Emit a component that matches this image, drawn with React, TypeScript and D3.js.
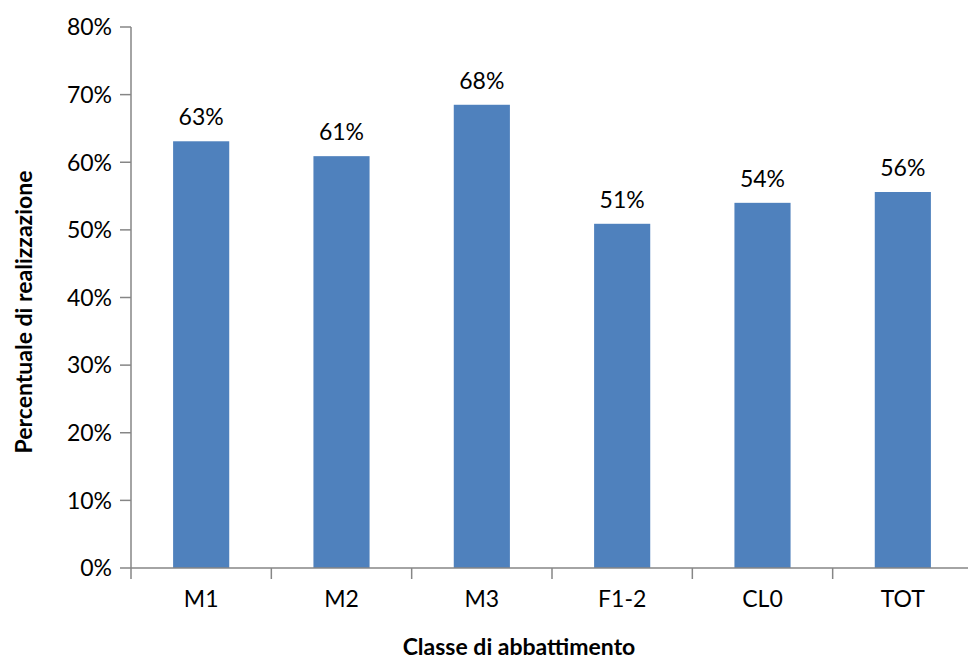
import React from "react";
import * as d3 from "d3";

const categories = ["M1", "M2", "M3", "F1-2", "CL0", "TOT"];
const values = [63.1, 60.9, 68.5, 50.9, 54.0, 55.6];
const valueLabels = ["63%", "61%", "68%", "51%", "54%", "56%"];
const yTicks = [0, 10, 20, 30, 40, 50, 60, 70, 80];

const W = 968;
const H = 659;
const FONT = "Lato, 'Open Sans', sans-serif";
const AXIS = "#868686";
const BAR = "#4F81BD";
const FS = 23;

export default function App() {
  const band = d3.scaleBand<string>().domain(categories).range([131, 973]);
  const y = d3.scaleLinear().domain([0, 80]).range([568, 27]);
  const step = band.step();
  return (
    <svg width={W} height={H} style={{ position: "absolute", left: 0, top: 0, display: "block" }} fontFamily={FONT}>
      <rect width={W} height={H} fill="#fff" />
      {categories.map((c, i) => {
        const cx = band(c)! + step / 2;
        const bw = step * 0.4;
        return (
          <g key={c}>
            <rect x={cx - bw / 2} y={y(values[i])} width={bw} height={y(0) - y(values[i])} fill={BAR} />
            <text x={cx} y={y(values[i]) - 16} textAnchor="middle" fontSize={FS} fill="#000">{valueLabels[i]}</text>
            <text x={cx} y={607} textAnchor="middle" fontSize={FS} fill="#000">{c}</text>
          </g>
        );
      })}
      <line x1={131} x2={131} y1={27} y2={568} stroke={AXIS} strokeWidth={1.5} />
      <line x1={131} x2={973} y1={568} y2={568} stroke={AXIS} strokeWidth={1.5} />
      {yTicks.map((t) => (
        <g key={t}>
          <line x1={120} x2={131} y1={y(t)} y2={y(t)} stroke={AXIS} strokeWidth={1.5} />
          <text x={112} y={y(t)} dy="0.36em" textAnchor="end" fontSize={FS} fill="#000">{t}%</text>
        </g>
      ))}
      {d3.range(categories.length + 1).map((i) => (
        <line key={i} x1={131 + i * step} x2={131 + i * step} y1={568} y2={579} stroke={AXIS} strokeWidth={1.5} />
      ))}
      <text x={519} y={655} textAnchor="middle" fontSize={FS} fontWeight="bold" fill="#000">Classe di abbattimento</text>
      <text transform={`translate(32,312) rotate(-90)`} textAnchor="middle" fontSize={FS} fontWeight="bold" fill="#000">Percentuale di realizzazione</text>
    </svg>
  );
}
